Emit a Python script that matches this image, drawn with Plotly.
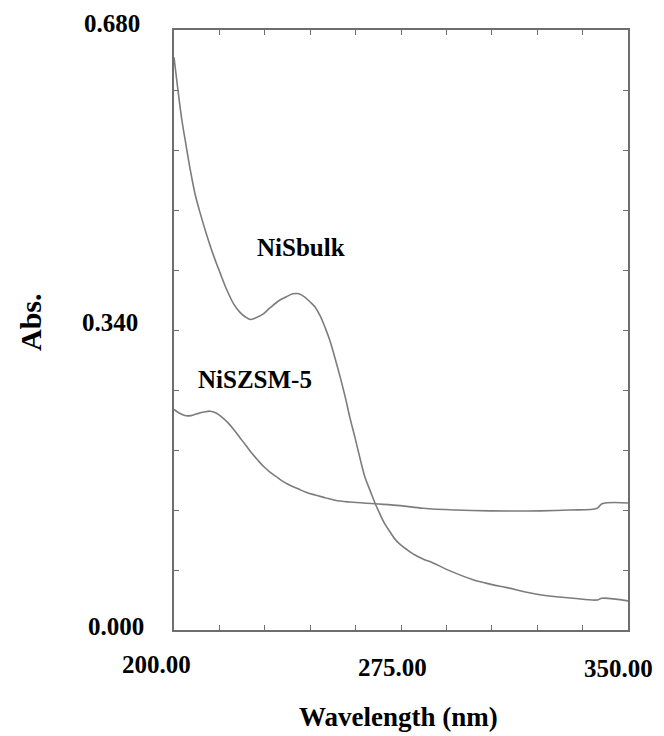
import plotly.graph_objects as go

# NiSbulk spectrum (wavelength nm, absorbance)
bulk_wl = [200.0, 201.3, 202.6, 204.0, 205.3, 206.9, 208.6, 210.6, 212.9, 215.2,
           217.5, 219.8, 221.8, 223.5, 225.1, 227.1, 229.4, 231.7, 235.0, 237.3,
           239.3, 241.3, 243.3, 244.9, 246.6, 248.3, 249.9, 251.5, 253.2, 254.8,
           256.5, 258.1, 259.8, 261.5, 263.1, 264.8, 266.4, 268.1, 269.7, 271.4,
           273.0, 274.7, 277.0, 279.6, 282.6, 285.6, 291.2, 298.8, 304.4, 310.0,
           320.9, 331.8, 339.8, 341.4, 350.0]
bulk_abs = [0.649, 0.612, 0.578, 0.549, 0.523, 0.495, 0.473, 0.450, 0.426, 0.405,
            0.385, 0.369, 0.360, 0.355, 0.352, 0.354, 0.358, 0.365, 0.374, 0.378,
            0.381, 0.381, 0.377, 0.372, 0.366, 0.356, 0.343, 0.328, 0.308, 0.288,
            0.265, 0.241, 0.218, 0.194, 0.173, 0.158, 0.144, 0.131, 0.120, 0.111,
            0.103, 0.097, 0.091, 0.085, 0.080, 0.076, 0.067, 0.057, 0.052, 0.048,
            0.040, 0.036, 0.034, 0.036, 0.033]

# NiSZSM-5 spectrum
zsm_wl = [200.0, 201.7, 203.6, 205.6, 207.6, 209.9, 211.9, 213.9, 215.9, 217.8,
          219.8, 221.8, 223.8, 225.8, 227.8, 229.7, 231.7, 233.7, 235.7, 238.3,
          241.0, 243.6, 246.6, 249.9, 253.2, 258.1, 266.4, 274.7, 282.3, 292.8,
          304.4, 320.9, 330.8, 339.8, 341.4, 350.0]
zsm_abs = [0.250, 0.246, 0.243, 0.243, 0.245, 0.247, 0.248, 0.246, 0.241, 0.235,
           0.227, 0.218, 0.209, 0.200, 0.192, 0.185, 0.179, 0.174, 0.169, 0.164,
           0.160, 0.156, 0.153, 0.150, 0.147, 0.145, 0.143, 0.141, 0.138, 0.136,
           0.135, 0.135, 0.136, 0.138, 0.143, 0.144]

x_tick_labels = ["200.00", "275.00", "350.00"]
y_tick_labels = ["0.000", "0.340", "0.680"]

FONT = "Liberation Serif"
LINE = "#7c7c7c"
FRAME = "#6e6e6e"

fig = go.Figure()
fig.add_trace(go.Scatter(x=bulk_wl, y=bulk_abs, mode="lines", name="NiSbulk",
                         line=dict(color=LINE, width=1.6, shape="spline", smoothing=1.0)))
fig.add_trace(go.Scatter(x=zsm_wl, y=zsm_abs, mode="lines", name="NiSZSM-5",
                         line=dict(color=LINE, width=1.6, shape="spline", smoothing=1.0)))

axis_common = dict(showline=True, linecolor=FRAME, linewidth=1.5, mirror="ticks",
                   ticks="inside", ticklen=5, tickwidth=1.2, tickcolor=FRAME,
                   showgrid=False, zeroline=False, showticklabels=False)
fig.update_xaxes(range=[200, 350], dtick=15, tick0=200, **axis_common)
fig.update_yaxes(range=[0, 0.68], dtick=0.068, tick0=0, **axis_common)

# plot area on screen: x 174..628, y 30..630 (page body has an 8px margin)
def px2paper(px, py):
    return (px - 174) / 454, (630 - py) / 600

ann = []
x_lab_pos = [(156, 664), (392, 667), (618, 668)]
for t, (px, py) in zip(x_tick_labels, x_lab_pos):
    xp, yp = px2paper(px, py)
    ann.append(dict(text="<b>" + t + "</b>", x=xp, y=yp, xref="paper", yref="paper",
                    showarrow=False, font=dict(family=FONT, size=25, color="black"),
                    xanchor="center", yanchor="middle"))
y_lab_pos = [(116, 626), (110, 322), (111.5, 24)]
for t, (px, py) in zip(y_tick_labels, y_lab_pos):
    xp, yp = px2paper(px, py)
    ann.append(dict(text="<b>" + t + "</b>", x=xp, y=yp, xref="paper", yref="paper",
                    showarrow=False, font=dict(family=FONT, size=25, color="black"),
                    xanchor="center", yanchor="middle"))
xp, yp = px2paper(398, 717)
ann.append(dict(text="<b>Wavelength (nm)</b>", x=xp, y=yp, xref="paper", yref="paper",
                showarrow=False, font=dict(family=FONT, size=27, color="black"),
                xanchor="center", yanchor="middle"))
xp, yp = px2paper(30, 322)
ann.append(dict(text="<b>Abs.</b>", x=xp, y=yp, textangle=-90, xref="paper", yref="paper",
                showarrow=False, font=dict(family=FONT, size=30, color="black"),
                xanchor="center", yanchor="middle"))
xp, yp = px2paper(301, 247)
ann.append(dict(text="<b>NiSbulk</b>", x=xp, y=yp, xref="paper", yref="paper", showarrow=False,
                font=dict(family=FONT, size=25, color="black"), xanchor="center", yanchor="middle"))
xp, yp = px2paper(255, 380)
ann.append(dict(text="<b>NiSZSM-5</b>", x=xp, y=yp, xref="paper", yref="paper", showarrow=False,
                font=dict(family=FONT, size=25, color="black"), xanchor="center", yanchor="middle"))

fig.update_layout(width=656, height=728, margin=dict(l=166, r=36, t=22, b=106),
                  paper_bgcolor="white", plot_bgcolor="white", showlegend=False,
                  annotations=ann)

fig.write_html("out.html")
